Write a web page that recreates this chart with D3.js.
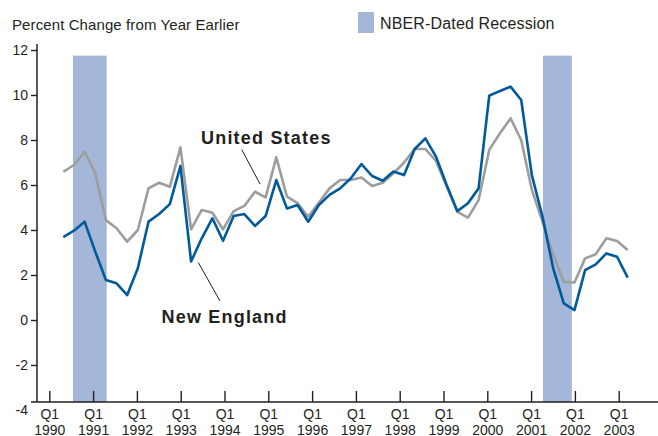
<!DOCTYPE html>
<html>
<head>
<meta charset="utf-8">
<script src="https://cdn.jsdelivr.net/npm/d3@7/dist/d3.min.js"></script>
<style>
body { margin: 0; background: #fff; }
text { font-family: "Liberation Sans", Arial, Helvetica, sans-serif; fill: #231f20; }
</style>
</head>
<body>
<svg class="chart" width="658" height="436"></svg>
<script>
// Quarters, 1990 Q1 through 2003 Q2
var quarters = [
    "1990Q1", "1990Q2", "1990Q3", "1990Q4", "1991Q1", "1991Q2", "1991Q3", "1991Q4",
    "1992Q1", "1992Q2", "1992Q3", "1992Q4", "1993Q1", "1993Q2", "1993Q3", "1993Q4",
    "1994Q1", "1994Q2", "1994Q3", "1994Q4", "1995Q1", "1995Q2", "1995Q3", "1995Q4",
    "1996Q1", "1996Q2", "1996Q3", "1996Q4", "1997Q1", "1997Q2", "1997Q3", "1997Q4",
    "1998Q1", "1998Q2", "1998Q3", "1998Q4", "1999Q1", "1999Q2", "1999Q3", "1999Q4",
    "2000Q1", "2000Q2", "2000Q3", "2000Q4", "2001Q1", "2001Q2", "2001Q3", "2001Q4",
    "2002Q1", "2002Q2", "2002Q3", "2002Q4", "2003Q1", "2003Q2"
];

// Percent change from year earlier
var newEngland = [
    3.68, 3.97, 4.37, 3.04, 1.78, 1.63, 1.11, 2.30,
    4.37, 4.71, 5.15, 6.84, 2.60, 3.63, 4.52, 3.52,
    4.62, 4.71, 4.18, 4.62, 6.22, 4.96, 5.11, 4.37,
    5.11, 5.56, 5.85, 6.30, 6.93, 6.40, 6.19, 6.60,
    6.44, 7.60, 8.07, 7.26, 6.00, 4.84, 5.19, 5.85,
    9.97, 10.18, 10.37, 9.78, 6.44, 4.59, 2.30, 0.74,
    0.44, 2.22, 2.47, 2.96, 2.81, 1.88
];

var unitedStates = [
    6.59, 6.89, 7.48, 6.52, 4.44, 4.08, 3.48, 4.00,
    5.85, 6.10, 5.92, 7.67, 4.03, 4.89, 4.77, 4.03,
    4.84, 5.07, 5.70, 5.45, 7.23, 5.48, 5.19, 4.59,
    5.21, 5.85, 6.22, 6.22, 6.33, 5.96, 6.10, 6.52,
    7.00, 7.60, 7.60, 7.07, 5.93, 4.81, 4.55, 5.33,
    7.56, 8.30, 8.96, 8.00, 5.78, 4.37, 2.89, 1.70,
    1.67, 2.74, 2.92, 3.63, 3.51, 3.11
];

// NBER-dated recessions (start, end in fractional years)
var recessions = [[1990.54, 1991.31], [2001.27, 2001.93]];
var recessionTop = 11.75;

// Axis ticks
var tickYears = [1990, 1991, 1992, 1993, 1994, 1995, 1996, 1997, 1998, 1999, 2000, 2001, 2002, 2003];
var yTicks = [-4, -2, 0, 2, 4, 6, 8, 10, 12];

var svg = d3.select(".chart");

var baseY = 402;

// Scales
var xYear = d3.scaleLinear().domain([1990, 2003]).range([49.3, 618.7]);
var xQ = d3.scalePoint().domain(quarters).range([63.3, 627.7]);
var y = d3.scaleLinear().domain([-4, 12]).range([410, 50]);

// Recession shading
svg.selectAll(".recession")
    .data(recessions)
    .enter()
    .append("rect")
    .attr("class", "recession")
    .attr("x", function (d) { return xYear(d[0]); })
    .attr("width", function (d) { return xYear(d[1]) - xYear(d[0]); })
    .attr("y", y(recessionTop))
    .attr("height", function () { return baseY - y(recessionTop); })
    .style("fill", "#a5b7d8");

// Title
svg.append("text")
    .attr("x", 12)
    .attr("y", 30)
    .style("font-size", "15px")
    .style("letter-spacing", "0.1px")
    .text("Percent Change from Year Earlier");

// Legend
svg.append("rect")
    .attr("x", 358)
    .attr("y", 12)
    .attr("width", 16)
    .attr("height", 21)
    .style("fill", "#a5b7d8");
svg.append("text")
    .attr("x", 380)
    .attr("y", 29)
    .style("font-size", "16px")
    .style("letter-spacing", "0.15px")
    .text("NBER-Dated Recession");

// Y axis (plain hyphen for negatives, as in the original)
var yAxis = svg.append("g")
    .attr("transform", "translate(37,0)")
    .call(d3.axisLeft(y).tickValues(yTicks).tickSize(6).tickPadding(3)
        .tickFormat(function (d) { return String(d); }));
yAxis.select(".domain").remove();
yAxis.selectAll(".tick text").style("font-size", "14px").style("font-family", null);
yAxis.selectAll(".tick line").style("stroke", "#231f20").style("stroke-width", 1.4);
yAxis.selectAll(".tick").filter(function (d) { return d === -4; }).select("line").remove();

svg.append("line")
    .attr("x1", 37).attr("x2", 37)
    .attr("y1", 44).attr("y2", baseY)
    .style("stroke", "#231f20").style("stroke-width", 1.5);

// X axis, two-line labels: Q1 over the year
var xAxis = svg.append("g")
    .attr("transform", "translate(0," + baseY + ")")
    .call(d3.axisBottom(xYear).tickValues(tickYears).tickSizeInner(-11).tickSizeOuter(0).tickFormat(""));
xAxis.select(".domain").remove();
xAxis.selectAll(".tick line").style("stroke", "#231f20").style("stroke-width", 1.4);
xAxis.selectAll(".tick text").remove();
var xLabel = xAxis.selectAll(".tick").append("text")
    .attr("y", 17)
    .attr("text-anchor", "middle")
    .style("font-size", "14px");
xLabel.append("tspan")
    .attr("x", 0)
    .text("Q1");
xLabel.append("tspan")
    .attr("x", 0)
    .attr("dy", 15.5)
    .text(function (d) { return d; });

svg.append("line")
    .attr("x1", 31).attr("x2", 658)
    .attr("y1", baseY).attr("y2", baseY)
    .style("stroke", "#231f20").style("stroke-width", 1.5);

// Lines
var line = function (values) {
    return d3.line()
        .x(function (d, i) { return xQ(quarters[i]); })
        .y(function (d) { return y(d); })(values);
};

svg.append("path")
    .attr("d", line(unitedStates))
    .style("fill", "none")
    .style("stroke", "#9d9d9d")
    .style("stroke-width", 2.6)
    .style("stroke-linejoin", "round");

svg.append("path")
    .attr("d", line(newEngland))
    .style("fill", "none")
    .style("stroke", "#005a9c")
    .style("stroke-width", 2.6)
    .style("stroke-linejoin", "round");

// Series labels with leader lines
svg.append("text")
    .attr("x", 201)
    .attr("y", 144)
    .style("font-size", "18px")
    .style("font-weight", "bold")
    .style("letter-spacing", "1.2px")
    .text("United States");
svg.append("line")
    .attr("x1", 241.7).attr("y1", 149.5)
    .attr("x2", 260).attr("y2", 184)
    .style("stroke", "#231f20").style("stroke-width", 1);

svg.append("text")
    .attr("x", 161.5)
    .attr("y", 323)
    .style("font-size", "18px")
    .style("font-weight", "bold")
    .style("letter-spacing", "1.2px")
    .text("New England");
svg.append("line")
    .attr("x1", 198.3).attr("y1", 262.5)
    .attr("x2", 220).attr("y2", 301)
    .style("stroke", "#231f20").style("stroke-width", 1);
</script>
</body>
</html>
